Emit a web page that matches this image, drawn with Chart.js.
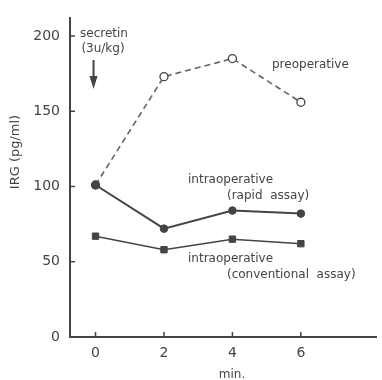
<!DOCTYPE html>
<html>
<head>
<meta charset="utf-8">
<script src="https://cdn.jsdelivr.net/npm/chart.js@4.4.1/dist/chart.umd.min.js"></script>
<style>
  html, body { margin: 0; padding: 0; background: #fff; }
  #wrap { width: 382px; height: 380px; }
</style>
</head>
<body>
<div id="wrap"><canvas id="irgChart" width="382" height="380"></canvas></div>
<script>
// IRG response to secretin, pg/ml by minute
const minutes = [0, 2, 4, 6];
const preoperative = [101, 173, 185, 156];
const rapidAssay = [101, 72, 84, 82];
const conventionalAssay = [67, 58, 65, 62];
const yTickValues = [0, 50, 100, 150, 200];
const xTickValues = [0, 2, 4, 6];

const INK = '#444';
const FONT = '"DejaVu Sans", sans-serif';

const toPoints = vals => minutes.map((m, i) => ({ x: m, y: vals[i] }));

// inward tick marks, axis title and the text notes
const notesPlugin = {
    id: 'notes',
    afterDraw(chart) {
        const { ctx, chartArea, scales } = chart;
        const xs = scales.x, ys = scales.y;
        ctx.save();
        ctx.strokeStyle = INK;
        ctx.lineWidth = 1.5;
        yTickValues.forEach(v => {
            const y = ys.getPixelForValue(v);
            ctx.beginPath();
            ctx.moveTo(chartArea.left, y);
            ctx.lineTo(chartArea.left + 5, y);
            ctx.stroke();
        });
        xTickValues.forEach(v => {
            const x = xs.getPixelForValue(v);
            ctx.beginPath();
            ctx.moveTo(x, chartArea.bottom);
            ctx.lineTo(x, chartArea.bottom - 5);
            ctx.stroke();
        });

        // y title
        ctx.fillStyle = INK;
        ctx.font = '13px ' + FONT;
        ctx.textAlign = 'center';
        ctx.textBaseline = 'middle';
        ctx.save();
        ctx.translate(16, 152);
        ctx.rotate(-Math.PI / 2);
        ctx.fillText('IRG (pg/ml)', 0, 0);
        ctx.restore();

        // x title
        ctx.font = '12px ' + FONT;
        ctx.fillText('min.', 232, 375);

        // secretin note and arrow
        ctx.fillText('secretin', 104, 34);
        ctx.fillText('(3u/kg)', 103, 49);
        const ax = xs.getPixelForValue(0) - 2;
        ctx.lineWidth = 2;
        ctx.beginPath();
        ctx.moveTo(ax, 60);
        ctx.lineTo(ax, 80);
        ctx.stroke();
        ctx.beginPath();
        ctx.moveTo(ax - 4, 76);
        ctx.lineTo(ax + 4, 76);
        ctx.lineTo(ax, 89);
        ctx.closePath();
        ctx.fill();

        // series labels
        ctx.textAlign = 'left';
        ctx.fillText('preoperative', 272, 65);
        ctx.fillText('intraoperative', 188, 180);
        ctx.fillText('(rapid  assay)', 227, 196);
        ctx.fillText('intraoperative', 188, 259);
        ctx.fillText('(conventional  assay)', 227, 275);
        ctx.restore();
    }
};

new Chart(document.getElementById('irgChart'), {
    type: 'line',
    data: {
        datasets: [
            {
                label: 'intraoperative (rapid assay)',
                data: toPoints(rapidAssay),
                borderColor: INK,
                borderWidth: 2,
                pointStyle: 'circle',
                pointRadius: 3.8,
                pointBackgroundColor: INK,
                pointBorderColor: INK,
                pointBorderWidth: 1
            },
            {
                label: 'intraoperative (conventional assay)',
                data: toPoints(conventionalAssay),
                borderColor: INK,
                borderWidth: 1.5,
                pointStyle: 'rect',
                pointRadius: 4.5,
                pointBackgroundColor: INK,
                pointBorderColor: INK,
                pointBorderWidth: 1
            },
            {
                label: 'preoperative',
                data: toPoints(preoperative),
                borderColor: '#666',
                borderWidth: 1.6,
                borderDash: [6, 4],
                pointStyle: 'circle',
                pointRadius: 4,
                pointBackgroundColor: ['#444', '#fff', '#fff', '#fff'],
                pointBorderColor: INK,
                pointBorderWidth: 1.3
            }
        ]
    },
    options: {
        responsive: false,
        animation: false,
        devicePixelRatio: 1,
        layout: { padding: { top: 11, right: 0, left: 0, bottom: 0 } },
        plugins: {
            legend: { display: false },
            tooltip: { enabled: false }
        },
        scales: {
            x: {
                type: 'linear',
                min: -0.746,
                max: 8.21,
                afterBuildTicks: axis => { axis.ticks = xTickValues.map(v => ({ value: v })); },
                afterFit: axis => { axis.height = 43; },
                grid: { display: false, drawTicks: false },
                border: { display: true, color: INK, width: 2 },
                ticks: {
                    color: INK,
                    padding: 8,
                    font: { family: FONT, size: 14 }
                }
            },
            y: {
                type: 'linear',
                min: 0,
                max: 211.7,
                afterBuildTicks: axis => { axis.ticks = yTickValues.map(v => ({ value: v })); },
                afterFit: axis => { axis.width = 70; },
                grid: { display: false, drawTicks: false },
                border: { display: true, color: INK, width: 2 },
                ticks: {
                    color: INK,
                    padding: 10,
                    font: { family: FONT, size: 14 }
                }
            }
        }
    },
    plugins: [notesPlugin]
});
</script>
</body>
</html>
